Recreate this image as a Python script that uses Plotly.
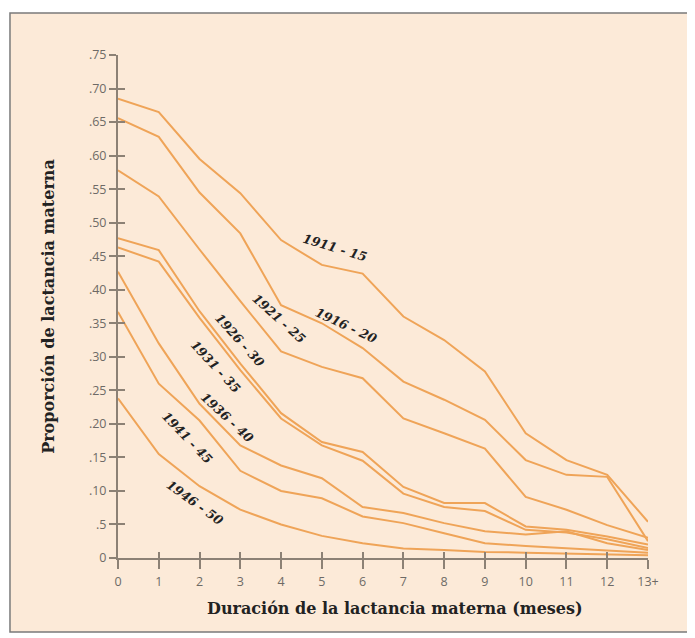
import plotly.graph_objects as go

months = list(range(14))
x_tick_labels = ["0", "1", "2", "3", "4", "5", "6", "7", "8", "9", "10", "11", "12", "13+"]
y_tick_values = [0, 0.05, 0.10, 0.15, 0.20, 0.25, 0.30, 0.35, 0.40, 0.45, 0.50, 0.55, 0.60, 0.65, 0.70, 0.75]
y_tick_labels = ["0", ".5", ".10", ".15", ".20", ".25", ".30", ".35", ".40", ".45", ".50", ".55", ".60", ".65", ".70", ".75"]

cohorts = ["1911 - 15", "1916 - 20", "1921 - 25", "1926 - 30", "1931 - 35", "1936 - 40", "1941 - 45", "1946 - 50"]

s1911 = [0.685, 0.665, 0.595, 0.544, 0.474, 0.437, 0.424, 0.360, 0.325, 0.278, 0.186, 0.146, 0.124, 0.054]
s1916 = [0.656, 0.628, 0.545, 0.484, 0.377, 0.350, 0.313, 0.263, 0.236, 0.206, 0.146, 0.124, 0.121, 0.025]
s1921 = [0.578, 0.539, 0.460, 0.383, 0.308, 0.285, 0.268, 0.208, 0.186, 0.163, 0.091, 0.072, 0.049, 0.030]
s1926 = [0.477, 0.459, 0.368, 0.290, 0.216, 0.173, 0.158, 0.106, 0.082, 0.082, 0.047, 0.042, 0.032, 0.020]
s1931 = [0.463, 0.442, 0.358, 0.280, 0.208, 0.168, 0.145, 0.096, 0.076, 0.070, 0.042, 0.038, 0.028, 0.015]
s1936 = [0.427, 0.320, 0.230, 0.168, 0.138, 0.119, 0.076, 0.067, 0.052, 0.040, 0.035, 0.040, 0.022, 0.012]
s1941 = [0.367, 0.260, 0.205, 0.130, 0.100, 0.089, 0.062, 0.052, 0.037, 0.022, 0.018, 0.015, 0.011, 0.008]
s1946 = [0.238, 0.155, 0.107, 0.072, 0.050, 0.033, 0.022, 0.014, 0.012, 0.009, 0.008, 0.007, 0.006, 0.004]
series = [s1911, s1916, s1921, s1926, s1931, s1936, s1941, s1946]

# label placement (data coords) and rotation
label_x = [5.32, 5.60, 3.95, 3.00, 2.40, 2.68, 1.69, 1.89]
label_y = [0.463, 0.347, 0.357, 0.325, 0.286, 0.209, 0.179, 0.083]
label_angle = [17, 25, 42, 48, 47, 43, 46, 36]

LINE = "#EFA458"
AXIS = "#8C8175"
BG = "#FCEAD8"

fig = go.Figure()
for name, vals in zip(cohorts, series):
    fig.add_trace(go.Scatter(x=months, y=vals, mode="lines", name=name,
                             line=dict(color=LINE, width=2), showlegend=False,
                             hoverinfo="skip"))

# invisible trace to activate the overlay axes (inner tick halves)
fig.add_trace(go.Scatter(x=months, y=s1946, mode="lines", xaxis="x2", yaxis="y2",
                         line=dict(color="rgba(0,0,0,0)", width=0), showlegend=False,
                         hoverinfo="skip"))

for name, lx, ly, ang in zip(cohorts, label_x, label_y, label_angle):
    fig.add_annotation(x=lx, y=ly, text="<b><i>" + name + "</i></b>", showarrow=False,
                       textangle=ang, font=dict(family="DejaVu Serif", size=12.5, color="#222222"))

# x-axis title (placed as annotation to match horizontal offset)
fig.add_annotation(xref="paper", yref="paper", x=0.5226, y=-0.101, yanchor="middle",
                   text="<b>Duración de la lactancia materna (meses)</b>", showarrow=False,
                   font=dict(family="DejaVu Serif", size=16, color="#222222"))

tickfont = dict(family="Open Sans", size=12.5, color="#6E6A66")

fig.update_layout(
    width=687, height=630,
    margin=dict(l=110, r=47, t=47, b=80),
    paper_bgcolor="white",
    plot_bgcolor=BG,
    xaxis=dict(range=[0, 13], tickvals=months, ticktext=x_tick_labels,
               showgrid=False, zeroline=False, showline=True, linecolor=AXIS, linewidth=2,
               ticks="outside", ticklen=9, tickwidth=1.5, tickcolor=AXIS,
               tickfont=tickfont, ticklabelstandoff=2),
    yaxis=dict(range=[0, 0.75], tickvals=y_tick_values, ticktext=y_tick_labels,
               showgrid=False, zeroline=False, showline=True, linecolor=AXIS, linewidth=2,
               ticks="outside", ticklen=7, tickwidth=1.5, tickcolor=AXIS,
               tickfont=tickfont,
               title=dict(text="<b>Proporción de lactancia materna</b>",
                          font=dict(family="DejaVu Serif", size=16, color="#222222"),
                          standoff=30)),
    xaxis2=dict(range=[0, 13], tickvals=months, overlaying="x", anchor="y2",
                showticklabels=False, showgrid=False, zeroline=False, showline=False,
                ticks="inside", ticklen=6, tickwidth=1.5, tickcolor=AXIS),
    yaxis2=dict(range=[0, 0.75], tickvals=y_tick_values, overlaying="y", anchor="x2",
                showticklabels=False, showgrid=False, zeroline=False, showline=False,
                ticks="inside", ticklen=7, tickwidth=1.5, tickcolor=AXIS),
    shapes=[dict(type="rect", xref="paper", yref="paper",
                 x0=-0.2038, x1=1.0755, y0=-0.1471, y1=1.0835,
                 fillcolor=BG, line=dict(color="#7A7A7A", width=1.5), layer="below")],
)

fig.write_html("out.html")
